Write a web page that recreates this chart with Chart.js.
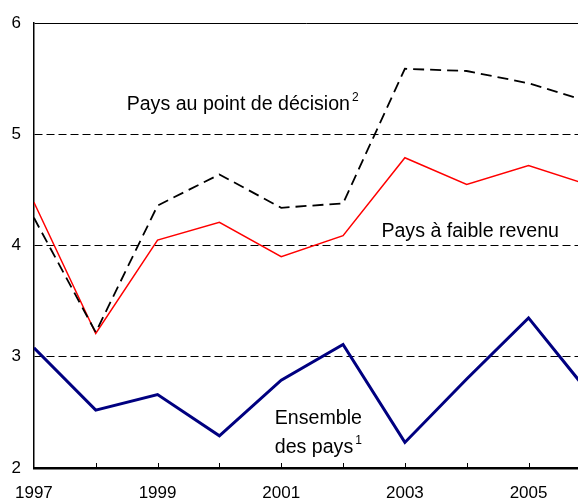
<!DOCTYPE html>
<html lang="fr">
<head>
  <meta charset="UTF-8" />
  <title>Pays au point de décision</title>
  <script src="https://cdn.jsdelivr.net/npm/chart.js"></script>
  <style>
    html, body { margin: 0; padding: 0; background: #fff; }
    #wrap { width: 578px; height: 500px; }
  </style>
</head>
<body>
  <div id="wrap"><canvas id="chart" width="578" height="500"></canvas></div>
  <script>
    // data
    const years = [1997, 1998, 1999, 2000, 2001, 2002, 2003, 2004, 2005, 2006];
    const ensemble = [3.08, 2.52, 2.66, 2.29, 2.79, 3.11, 2.23, 2.80, 3.35, 2.66];
    const faibleRevenu = [4.39, 3.21, 4.05, 4.21, 3.90, 4.09, 4.79, 4.55, 4.72, 4.54];
    const pointDecision = [4.25, 3.22, 4.36, 4.64, 4.34, 4.38, 5.59, 5.57, 5.46, 5.29];
    const yTicks = [2, 3, 4, 5, 6];
    const xLabelYears = [1997, 1999, 2001, 2003, 2005];

    const FONT = '"Liberation Sans", Arial, sans-serif';

    // text labels placed in data units
    const notes = [
      { lines: [['Pays au point de décision', '2']], x: 1998.5, y: 5.22, align: 'left' },
      { lines: [['Pays à faible revenu', '']], x: 2002.62, y: 4.075, align: 'left' },
      { lines: [['Ensemble', ''], ['des pays', '1']], x: 2001.6, y: 2.40, align: 'center' }
    ];

    const toPoints = vals => years.map((yr, i) => ({ x: yr, y: vals[i] }));

    const notesPlugin = {
      id: 'notes',
      afterDatasetsDraw(chart) {
        const { ctx, chartArea, scales: { x, y } } = chart;
        ctx.save();
        // small ticks inside the bottom axis
        ctx.strokeStyle = '#000';
        ctx.lineWidth = 1;
        years.forEach(yr => {
          const px = Math.round(x.getPixelForValue(yr)) + 0.5;
          if (px <= chartArea.left + 1 || px >= chartArea.right) return;
          ctx.beginPath();
          ctx.moveTo(px, chartArea.bottom);
          ctx.lineTo(px, chartArea.bottom - 5);
          ctx.stroke();
        });

        ctx.fillStyle = '#000';
        ctx.textBaseline = 'alphabetic';
        ctx.textAlign = 'left';
        notes.forEach(n => {
          const px = x.getPixelForValue(n.x);
          let py = y.getPixelForValue(n.y);
          n.lines.forEach(([txt, sup]) => {
            ctx.font = '19.6px ' + FONT;
            const w = ctx.measureText(txt).width;
            ctx.font = '12px ' + FONT;
            const sw = sup ? ctx.measureText(sup).width + 2 : 0;
            const left = n.align === 'center' ? px - (w + sw) / 2 : px;
            ctx.font = '19.6px ' + FONT;
            ctx.fillText(txt, left, py);
            if (sup) {
              ctx.font = '12px ' + FONT;
              ctx.fillText(sup, left + w + 2, py - 9);
            }
            py += 29;
          });
        });
        ctx.restore();
      }
    };

    new Chart(document.getElementById('chart'), {
      type: 'line',
      data: {
        datasets: [
          {
            label: 'Pays au point de décision',
            data: toPoints(pointDecision),
            borderColor: '#000',
            borderWidth: 1.8,
            borderDash: [11, 6],
            pointRadius: 0,
            tension: 0
          },
          {
            label: 'Pays à faible revenu',
            data: toPoints(faibleRevenu),
            borderColor: '#ff0000',
            borderWidth: 1.5,
            pointRadius: 0,
            tension: 0
          },
          {
            label: 'Ensemble des pays',
            data: toPoints(ensemble),
            borderColor: '#000080',
            borderWidth: 3,
            pointRadius: 0,
            tension: 0
          }
        ]
      },
      options: {
        responsive: false,
        animation: false,
        devicePixelRatio: 1,
        layout: { padding: { top: 19, right: 0, left: 0, bottom: 0 } },
        plugins: { legend: { display: false }, tooltip: { enabled: false } },
        scales: {
          x: {
            type: 'linear',
            min: 1997,
            max: 2005.8,
            afterBuildTicks: s => { s.ticks = xLabelYears.map(v => ({ value: v })); },
            afterFit: s => { s.height = 32; },
            grid: { display: false, drawTicks: false },
            border: { display: true, color: '#000', width: 2.5 },
            ticks: {
              color: '#000',
              padding: 15,
              maxRotation: 0,
              autoSkip: false,
              font: { family: FONT, size: 17 },
              callback: v => String(v)
            }
          },
          y: {
            min: 2,
            max: 6,
            afterBuildTicks: s => { s.ticks = yTicks.map(v => ({ value: v })); },
            afterFit: s => { s.width = 33; },
            grid: {
              drawTicks: false,
              lineWidth: 1,
              color: c => (c.tick && c.tick.value > 2) ? '#000' : 'rgba(0,0,0,0)'
            },
            border: {
              display: true,
              color: '#000',
              width: 1.5,
              dash: c => (c.tick && c.tick.value === 6) ? [] : [8, 4]
            },
            ticks: {
              color: '#000',
              padding: 13,
              font: { family: FONT, size: 17 }
            }
          }
        }
      },
      plugins: [notesPlugin]
    });
  </script>
</body>
</html>
